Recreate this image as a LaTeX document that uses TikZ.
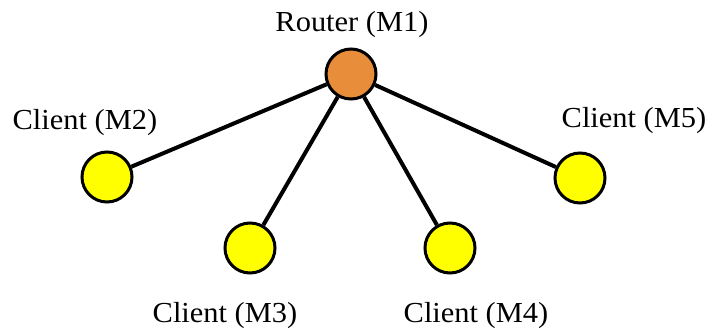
\documentclass[tikz,border=0pt]{standalone}
\usepackage{fontspec}
\setmainfont{Liberation Serif}[FakeStretch=1.05]
\begin{document}
\begin{tikzpicture}[x=1pt,y=-1pt,
    router/.style={circle, draw=black, line width=3pt, fill=routerorange, minimum size=50pt, inner sep=0pt},
    client/.style={circle, draw=black, line width=3pt, fill=clientyellow, minimum size=50pt, inner sep=0pt},
    link/.style={line width=4pt, black},
    lbl/.style={anchor=base, inner sep=0pt, font=\fontsize{29}{34}\selectfont}]
\definecolor{routerorange}{RGB}{232,142,58}
\definecolor{clientyellow}{RGB}{255,255,0}
\useasboundingbox (0,0) rectangle (712,331);
% machines
\node[router] (m1) at (351,74) {};
\node[client] (m2) at (107,177) {};
\node[client] (m3) at (250,248) {};
\node[client] (m4) at (450,248) {};
\node[client] (m5) at (580,178) {};
% links from the router to each client
\draw[link] (m1) -- (m2);
\draw[link] (m1) -- (m3);
\draw[link] (m1) -- (m4);
\draw[link] (m1) -- (m5);
% labels
\node[lbl] (l1) at (352,32) {Router (M1)};
\node[lbl] (l2) at (85,130) {Client (M2)};
\node[lbl] (l3) at (225,322) {Client (M3)};
\node[lbl] (l4) at (476,322) {Client (M4)};
\node[lbl] (l5) at (634,128) {Client (M5)};
\end{tikzpicture}
\end{document}
